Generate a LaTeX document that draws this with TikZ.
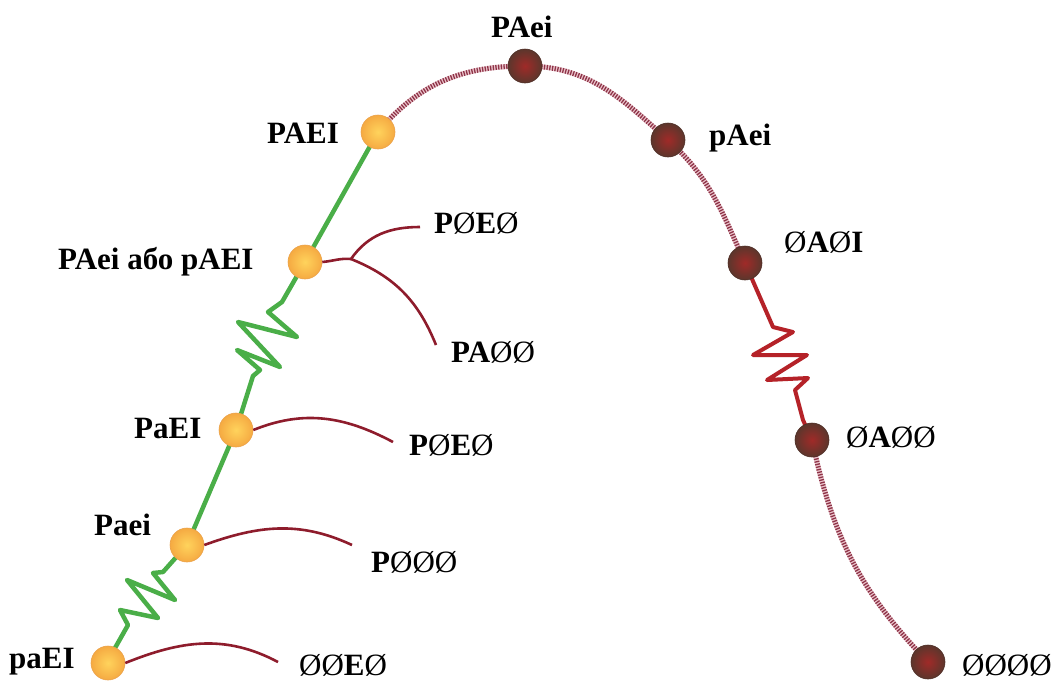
\documentclass[tikz,border=0pt]{standalone}
\usepackage{fontspec}
\setmainfont{Liberation Serif}
\newcommand\zr{{\mdseries Ø}}
\definecolor{leaf}{HTML}{4AAE48}
\definecolor{wine}{HTML}{8E1C2C}
\definecolor{brick}{HTML}{B52228}
\definecolor{hatch}{HTML}{8E3448}
\definecolor{hatchbg}{HTML}{EBC4CC}
\definecolor{goldin}{HTML}{FFD35C}
\definecolor{goldout}{HTML}{F5AA42}
\definecolor{goldrim}{HTML}{EBA24A}
\definecolor{umberin}{HTML}{A02A28}
\definecolor{umberout}{HTML}{5C362C}
\definecolor{umberrim}{HTML}{4E2E26}
\tikzset{
  lbl/.style={anchor=base west, inner sep=0pt, font=\bfseries\fontsize{31}{37}\selectfont},
  gold/.style={circle, minimum size=34pt, inner sep=0pt, draw=goldrim, line width=0.6pt,
    shading=radial, inner color=goldin, outer color=goldout},
  umber/.style={circle, minimum size=34pt, inner sep=0pt, draw=umberrim, line width=0.6pt,
    shading=radial, inner color=umberin, outer color=umberout},
  stem/.style={leaf, line width=4.5pt, line join=round, line cap=round},
  spring/.style={brick, line width=4pt, line join=round, line cap=round},
  branch/.style={wine, line width=2.6pt},
  hatchbase/.style={hatchbg, line width=5pt},
  hatchline/.style={hatch, line width=5pt, dash pattern=on 1.3pt off 1.4pt},
}
\begin{document}
\begin{tikzpicture}[x=1pt,y=1pt]
\useasboundingbox[fill=white] (0,0) rectangle (1057,-681);

% positions of the states
\coordinate (cPAEI) at (378,-132);
\coordinate (cPAeiAbo) at (305,-262);
\coordinate (cPaEI) at (236,-430);
\coordinate (cPaei) at (187,-545);
\coordinate (cpaEI) at (108,-663);
\coordinate (cPAei) at (525,-66);
\coordinate (cpAei) at (668,-140);
\coordinate (cOAOI) at (745,-263);
\coordinate (cOAOO) at (812,-440);
\coordinate (cOOOO) at (928,-662);

% hatched arc over the top
\foreach \s in {hatchbase,hatchline}{
  \draw[\s] (cPAEI) to[out=50,in=180] (cPAei) to[out=0,in=138] (cpAei) to[out=-42,in=114] (cOAOI);
  \draw[\s] (cOAOO) to[out=-78,in=134] (cOOOO);
}

% green chain with springs
\draw[stem] (cpaEI) -- (115,-648) -- (128,-625) -- (120,-610) -- (158,-618) -- (127,-580)
  -- (175,-600) -- (153,-573) -- (163,-572) -- (cPaei);
\draw[stem] (cPaei) -- (cPaEI);
\draw[stem] (cPaEI) -- (253,-376) -- (260,-370) -- (237,-350) -- (280,-367) -- (238,-322)
  -- (297,-337) -- (268,-312) -- (282,-302) -- (cPAeiAbo);
\draw[stem] (cPAeiAbo) -- (cPAEI);

% red spring on the right
\draw[spring] (cOAOI) -- (773,-327) -- (793,-332) -- (753,-355) -- (807,-355) -- (767,-380)
  -- (808,-378) -- (795,-390) -- (803,-420) -- (cOAOO);

% state nodes
\node[gold] (PAEI) at (cPAEI) {};
\node[gold] (PAeiAbo) at (cPAeiAbo) {};
\node[gold] (PaEI) at (cPaEI) {};
\node[gold] (Paei) at (cPaei) {};
\node[gold] (paEI) at (cpaEI) {};
\node[umber] (PAei) at (cPAei) {};
\node[umber] (pAei) at (cpAei) {};
\node[umber] (OAOI) at (cOAOI) {};
\node[umber] (OAOO) at (cOAOO) {};
\node[umber] (OOOO) at (cOOOO) {};

% branch ends
\coordinate (fork) at (351,-259);
\coordinate (eUp) at (420,-227);
\coordinate (eDown) at (436,-345);
\coordinate (eMid) at (393,-442);
\coordinate (eLow) at (352,-545);
\coordinate (eBot) at (278,-662);

\draw[branch] (PAeiAbo.east) to[out=5,in=175] (fork);
\draw[branch] (fork) to[out=55,in=180] (eUp);
\draw[branch] (fork) to[out=-22,in=112] (eDown);
\draw[branch] (PaEI.east) to[out=22,in=152] (eMid);
\draw[branch] (Paei.east) to[out=20,in=155] (eLow);
\draw[branch] (paEI.east) to[out=22,in=152] (eBot);

% labels
\node[lbl] (tPAEI) at (267,-143) {PAEI};
\node[lbl] (tPAeiAbo) at (58,-269) {PAei або pAEI};
\node[lbl] (tPaEI) at (134,-438) {PaEI};
\node[lbl] (tPaei) at (94,-535) {Paei};
\node[lbl] (tpaEI) at (9,-668) {paEI};
\node[lbl] (tPAei) at (491,-37) {PAei};
\node[lbl] (tpAei) at (709,-145) {pAei};
\node[lbl] (tOAOI) at (784,-252) {\zr A\zr I};
\node[lbl] (tOAOO) at (846,-447) {\zr A\zr\zr};
\node[lbl] (tOOOO) at (962,-675) {\zr\zr\zr\zr};
\node[lbl] (tPOEOa) at (434,-233) {P\zr E\zr};
\node[lbl] (tPAOO) at (451,-362) {PA\zr\zr};
\node[lbl] (tPOEOb) at (409,-455) {P\zr E\zr};
\node[lbl] (tPOOO) at (371,-572) {P\zr\zr\zr};
\node[lbl] (tOOEO) at (299,-675) {\zr\zr E\zr};
\end{tikzpicture}
\end{document}
